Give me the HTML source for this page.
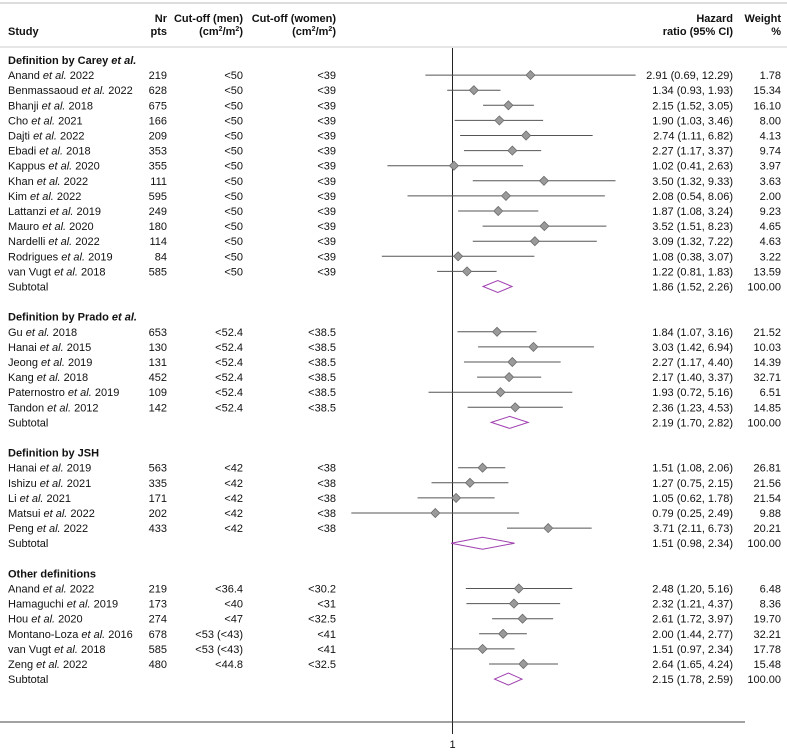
<!DOCTYPE html>
<html><head><meta charset="utf-8">
<style>
html,body{margin:0;padding:0;background:#fff;}
svg{display:block;font-family:"Liberation Sans",Arial,sans-serif;font-size:11px;fill:#111;}
</style></head>
<body>
<svg id="plot" width="787" height="752" viewBox="0 0 787 752"></svg>
<script>
const studies=["Anand|2022","Benmassaoud|2022","Bhanji|2018","Cho|2021","Dajti|2022","Ebadi|2018","Kappus|2020","Khan|2022","Kim|2022","Lattanzi|2019","Mauro|2020","Nardelli|2022","Rodrigues|2019","van Vugt|2018",
"Gu|2018","Hanai|2015","Jeong|2019","Kang|2018","Paternostro|2019","Tandon|2012",
"Hanai|2019","Ishizu|2021","Li|2021","Matsui|2022","Peng|2022",
"Anand|2022","Hamaguchi|2019","Hou|2020","Montano-Loza|2016","van Vugt|2018","Zeng|2022"];
const groupOf=[0,0,0,0,0,0,0,0,0,0,0,0,0,0,1,1,1,1,1,1,2,2,2,2,2,3,3,3,3,3,3];
const nPts=[219,628,675,166,209,353,355,111,595,249,180,114,84,585,653,130,131,452,109,142,563,335,171,202,433,219,173,274,678,585,480];
const cutMen=["<50","<50","<50","<50","<50","<50","<50","<50","<50","<50","<50","<50","<50","<50","<52.4","<52.4","<52.4","<52.4","<52.4","<52.4","<42","<42","<42","<42","<42","<36.4","<40","<47","<53 (<43)","<53 (<43)","<44.8"];
const cutWomen=["<39","<39","<39","<39","<39","<39","<39","<39","<39","<39","<39","<39","<39","<39","<38.5","<38.5","<38.5","<38.5","<38.5","<38.5","<38","<38","<38","<38","<38","<30.2","<31","<32.5","<41","<41","<32.5"];
const hr=[2.91,1.34,2.15,1.90,2.74,2.27,1.02,3.50,2.08,1.87,3.52,3.09,1.08,1.22,1.84,3.03,2.27,2.17,1.93,2.36,1.51,1.27,1.05,0.79,3.71,2.48,2.32,2.61,2.00,1.51,2.64];
const lci=[0.69,0.93,1.52,1.03,1.11,1.17,0.41,1.32,0.54,1.08,1.51,1.32,0.38,0.81,1.07,1.42,1.17,1.40,0.72,1.23,1.08,0.75,0.62,0.25,2.11,1.20,1.21,1.72,1.44,0.97,1.65];
const uci=[12.29,1.93,3.05,3.46,6.82,3.37,2.63,9.33,8.06,3.24,8.23,7.22,3.07,1.83,3.16,6.94,4.40,3.37,5.16,4.53,2.06,2.15,1.78,2.49,6.73,5.16,4.37,3.97,2.77,2.34,4.24];
const weight=["1.78","15.34","16.10","8.00","4.13","9.74","3.97","3.63","2.00","9.23","4.65","4.63","3.22","13.59","21.52","10.03","14.39","32.71","6.51","14.85","26.81","21.56","21.54","9.88","20.21","6.48","8.36","19.70","32.21","17.78","15.48"];
const groups=["Definition by Carey|et al.","Definition by Prado|et al.","Definition by JSH|","Other definitions|"];
const subHr=[1.86,2.19,1.51,2.15];
const subL=[1.52,1.70,0.98,1.78];
const subU=[2.26,2.82,2.34,2.59];

const svg=document.getElementById('plot');
const NS='http://www.w3.org/2000/svg';
const X0=452.5,K=73,XMAX=637;
const xs=v=>Math.min(X0+K*Math.log(v),XMAX);
const rowY=i=>60+i*15.1;
function el(tag,attrs,parent){const e=document.createElementNS(NS,tag);for(const k in attrs)e.setAttribute(k,attrs[k]);(parent||svg).appendChild(e);return e;}
function txt(x,y,s,anchor,bold,name){const t=el('text',{x:x,y:y+4,'text-anchor':anchor||'start'});if(bold)t.setAttribute('font-weight','bold');t.textContent=s;


return t;}
function studyTxt(x,y,s,bold,name){const p=s.split('|');const t=el('text',{x:x,y:y+4});if(bold)t.setAttribute('font-weight','bold');
const a=el('tspan',{},t);a.textContent=p[0]+(p[1]?' ':'');
if(bold){if(p[1]){const b=el('tspan',{'font-style':'italic'},t);b.textContent=p[1];}}
else{const b=el('tspan',{'font-style':'italic'},t);b.textContent='et al.';const c=el('tspan',{},t);c.textContent=' '+p[1];}

}

// frame lines
let l=el('line',{x1:0,y1:3,x2:787,y2:3,stroke:'#ddd','stroke-width':2});


l=el('line',{x1:0,y1:47,x2:787,y2:47,stroke:'#ddd','stroke-width':1.5});



// headers
txt(8,31,'Study','start',true,'study-header');
txt(167,18,'Nr','end',true,'nr-header');txt(167,31,'pts','end',true,'pts-header');
txt(243,18,'Cut-off (men)','end',true,'cutoff-men-header');
txt(336,18,'Cut-off (women)','end',true,'cutoff-women-header');
{const t=txt(243,31,'','end',true,'cutoff-men-unit');t.innerHTML='(cm<tspan font-size="7" dy="-4">2</tspan><tspan dy="4">/m</tspan><tspan font-size="7" dy="-4">2</tspan><tspan dy="4">)</tspan>';}
{const t=txt(336,31,'','end',true,'cutoff-women-unit');t.innerHTML='(cm<tspan font-size="7" dy="-4">2</tspan><tspan dy="4">/m</tspan><tspan font-size="7" dy="-4">2</tspan><tspan dy="4">)</tspan>';}
txt(733,18,'Hazard','end',true,'hr-header');txt(733,31,'ratio (95% CI)','end',true,'hr-ci-header');
txt(781,18,'Weight','end',true,'weight-header');txt(781,31,'%','end',true,'weight-pct-header');

// null line
l=el('line',{x1:X0,y1:48,x2:X0,y2:734,stroke:'#222','stroke-width':1});


l=el('line',{x1:0,y1:722,x2:745,y2:722,stroke:'#444','stroke-width':1});


txt(X0,744,'1','middle',false,'x-tick-label');

let row=0,si=0;
for(let g=0;g<groups.length;g++){
  studyTxt(8,rowY(row),groups[g],true,'group-header');row++;
  while(si<studies.length&&groupOf[si]===g){
    const y=rowY(row);
    studyTxt(8,y,studies[si],false,'study-name');
    txt(167,y,String(nPts[si]),'end',false,'nr-pts');
    txt(243,y,cutMen[si],'end',false,'cutoff-men');
    txt(336,y,cutWomen[si],'end',false,'cutoff-women');
    txt(733,y,hr[si].toFixed(2)+' ('+lci[si].toFixed(2)+', '+uci[si].toFixed(2)+')','end',false,'hr-ci-text');
    txt(781,y,weight[si],'end',false,'weight-text');
    const ci=el('line',{x1:xs(lci[si]),y1:y,x2:xs(uci[si]),y2:y,stroke:'#555','stroke-width':1});
    
    
    if(X0+K*Math.log(uci[si])>XMAX){const a=el('polygon',{points:`${XMAX},${y} ${XMAX-8},${y-2.5} ${XMAX-8},${y+2.5}`,fill:'#222'});
      
      }
    const cx=xs(hr[si]);
    const d=el('polygon',{points:`${cx-4.5},${y} ${cx},${y-4.5} ${cx+4.5},${y} ${cx},${y+4.5}`,fill:'#9a9a9a',stroke:'#6a6a6a','stroke-width':0.8});
    
    
    row++;si++;
  }
  const y=rowY(row);
  txt(8,y,'Subtotal','start',false,'subtotal-label');
  txt(733,y,subHr[g].toFixed(2)+' ('+subL[g].toFixed(2)+', '+subU[g].toFixed(2)+')','end',false,'subtotal-hr-text');
  txt(781,y,'100.00','end',false,'subtotal-weight');
  const cx=xs(subHr[g]);
  const sd=el('polygon',{points:`${xs(subL[g])},${y} ${cx},${y-6} ${xs(subU[g])},${y} ${cx},${y+6}`,fill:'none',stroke:'#a040b0','stroke-width':1});
  
  
  row+=2;
}
</script>
</body></html>
